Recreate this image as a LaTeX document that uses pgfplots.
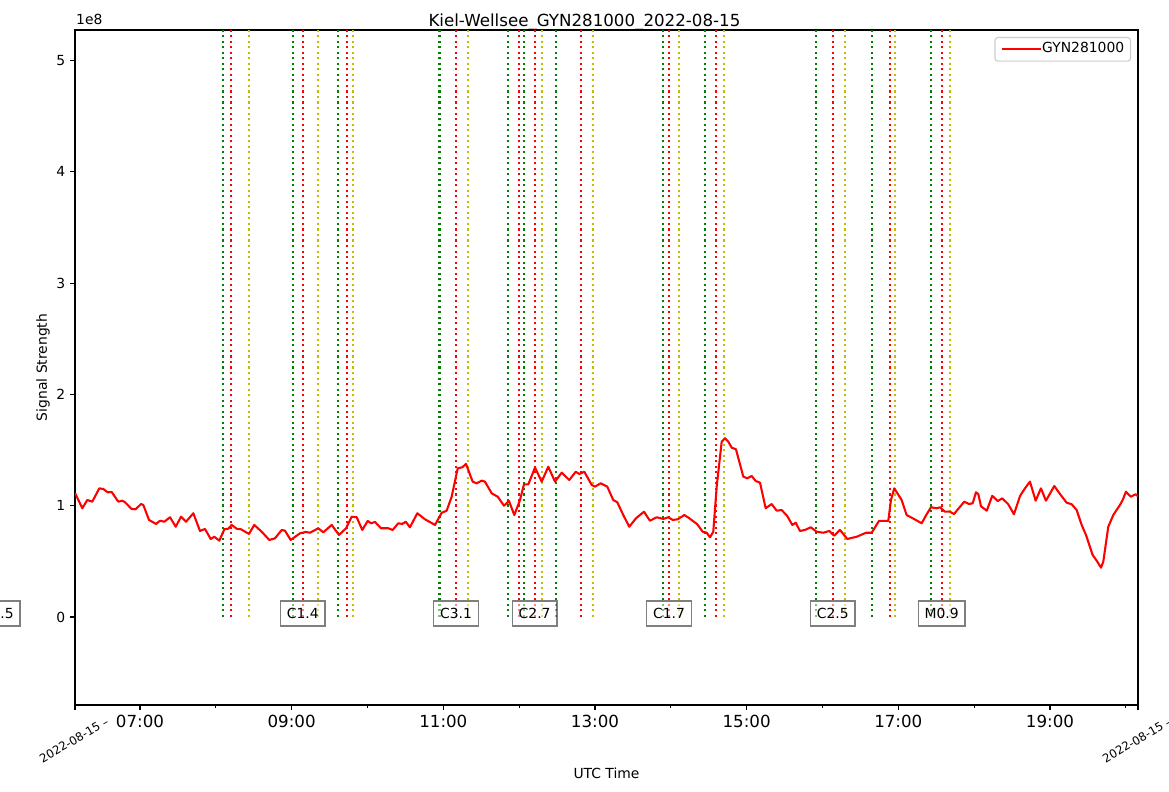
\documentclass[border=0pt]{standalone}
\usepackage{pgfplots}
\usepackage{pgfplotstable}
\pgfplotsset{compat=1.18}
\usepackage{fontspec}
\setmainfont{DejaVu Sans}
\definecolor{mplgreen}{rgb}{0,0.5,0}
\definecolor{mplyellow}{rgb}{0.75,0.75,0}
\definecolor{mplred}{rgb}{1,0,0}

\pgfplotstableread{
x y
6.1428 1.114
6.156 1.096
6.239 0.977
6.305 1.051
6.371 1.036
6.463 1.156
6.516 1.150
6.574 1.120
6.627 1.123
6.714 1.036
6.767 1.045
6.802 1.031
6.891 0.970
6.943 0.968
7.013 1.015
7.044 1.006
7.119 0.872
7.211 0.836
7.264 0.865
7.320 0.856
7.396 0.896
7.471 0.811
7.541 0.901
7.607 0.856
7.703 0.932
7.791 0.773
7.857 0.791
7.932 0.701
7.980 0.721
8.046 0.686
8.112 0.788
8.164 0.793
8.209 0.827
8.275 0.793
8.332 0.788
8.437 0.746
8.507 0.827
8.605 0.766
8.705 0.692
8.780 0.707
8.869 0.782
8.912 0.775
8.987 0.692
9.110 0.752
9.185 0.764
9.242 0.757
9.351 0.797
9.417 0.761
9.528 0.827
9.624 0.737
9.717 0.797
9.792 0.901
9.858 0.896
9.931 0.782
10.003 0.863
10.046 0.842
10.099 0.854
10.178 0.797
10.274 0.797
10.332 0.782
10.406 0.842
10.459 0.836
10.504 0.856
10.560 0.806
10.657 0.932
10.758 0.878
10.890 0.827
10.979 0.937
11.044 0.955
11.110 1.081
11.190 1.336
11.250 1.345
11.299 1.375
11.387 1.216
11.440 1.201
11.506 1.225
11.549 1.216
11.638 1.111
11.717 1.081
11.800 1.000
11.866 1.042
11.936 0.916
12.011 1.051
12.064 1.192
12.121 1.192
12.209 1.343
12.297 1.216
12.384 1.350
12.473 1.216
12.561 1.297
12.661 1.231
12.746 1.305
12.793 1.285
12.859 1.305
12.957 1.186
13.000 1.171
13.075 1.201
13.162 1.171
13.241 1.051
13.294 1.031
13.373 0.916
13.452 0.811
13.541 0.887
13.646 0.946
13.725 0.865
13.814 0.896
13.901 0.881
13.967 0.896
14.025 0.872
14.091 0.878
14.178 0.916
14.244 0.887
14.349 0.833
14.420 0.766
14.473 0.757
14.517 0.716
14.560 0.766
14.605 1.171
14.671 1.575
14.714 1.606
14.758 1.575
14.803 1.521
14.859 1.507
14.956 1.261
15.008 1.246
15.066 1.267
15.119 1.222
15.176 1.207
15.251 0.977
15.330 1.015
15.396 0.955
15.462 0.961
15.536 0.907
15.602 0.827
15.647 0.847
15.703 0.773
15.769 0.782
15.845 0.806
15.924 0.766
16.011 0.757
16.090 0.773
16.152 0.730
16.231 0.782
16.327 0.701
16.451 0.721
16.574 0.757
16.649 0.757
16.745 0.863
16.868 0.863
16.903 1.051
16.947 1.156
17.044 1.051
17.110 0.916
17.190 0.887
17.308 0.842
17.374 0.923
17.431 0.986
17.506 0.977
17.550 0.986
17.615 0.946
17.681 0.946
17.734 0.925
17.870 1.036
17.932 1.015
17.981 1.022
18.024 1.120
18.055 1.105
18.090 0.995
18.166 0.955
18.239 1.089
18.311 1.042
18.371 1.066
18.450 1.013
18.525 0.923
18.605 1.087
18.670 1.156
18.736 1.216
18.811 1.045
18.881 1.156
18.947 1.045
19.057 1.177
19.132 1.105
19.220 1.027
19.286 1.013
19.352 0.961
19.418 0.827
19.475 0.737
19.563 0.557
19.616 0.506
19.673 0.443
19.703 0.497
19.769 0.811
19.835 0.916
19.923 1.006
19.959 1.051
20.002 1.126
20.064 1.081
20.130 1.102
20.161 1.085
}\signal

\pgfplotsset{
  vg/.style={color=mplgreen, line width=1.5bp, dash pattern=on 1.5bp off 2.475bp, forget plot},
  vr/.style={color=mplred, line width=1.5bp, dash pattern=on 1.5bp off 2.475bp, forget plot},
  vy/.style={color=mplyellow, line width=1.5bp, dash pattern=on 1.5bp off 2.475bp, forget plot},
}
\tikzset{
  lbl/.style={draw=black, draw opacity=0.5, fill=white, fill opacity=0.5, text opacity=1,
    line width=1bp, font=\fontsize{10bp}{12bp}\selectfont, inner xsep=4.6bp, inner ysep=5.3bp,
    text height=7.3bp, text depth=0bp}
}

\begin{document}
\begin{tikzpicture}
\begin{axis}[
  scale only axis, width=765.36bp, height=486bp,
  xmin=6.1428, xmax=20.161, ymin=-0.7907, ymax=5.274,
  clip mode=individual,
  axis line style={line width=0.8bp},
  every tick/.style={black, line width=0.8bp},
  tick align=outside, tick pos=left,
  major tick length=3.5bp, minor tick length=2bp,
  xtick={7,9,11,13,15,17,19},
  xticklabels={07:00,09:00,11:00,13:00,15:00,17:00,19:00},
  minor xtick={8,10,12,14,16,18,20},
  extra x ticks={6.1428,20.161},
  extra x tick labels={},
  ytick={0,1,2,3,4,5},
  yticklabels={0,1,2,3,4,5},
  /pgf/number format/assume math mode=true,
  xticklabel style={font=\fontsize{12bp}{14bp}\selectfont},
  yticklabel style={font=\fontsize{10bp}{12bp}\selectfont},
  legend style={at={(rel axis cs:0.99341,0.98963)}, anchor=north east,
    draw=black!20, rounded corners=2bp, line width=0.8bp,
    font=\fontsize{10bp}{12bp}\selectfont, inner xsep=4.5bp, inner ysep=3.5bp,
    nodes={inner sep=0pt, text height=7.6bp, text depth=2.4bp}},
  legend image code/.code={\draw[#1] (0bp,0bp) -- (20bp,0bp); \path (0bp,0bp) -- (28bp,0bp);},
]
% start (green), peak (red), end (yellow) lines
\addplot[vg] coordinates {(8.0906,0) (8.0906,5.274)};
\addplot[vr] coordinates {(8.196,0) (8.196,5.274)};
\addplot[vy] coordinates {(8.437,0) (8.437,5.274)};
\addplot[vg] coordinates {(9.014,0) (9.014,5.274)};
\addplot[vr] coordinates {(9.146,0) (9.146,5.274)};
\addplot[vy] coordinates {(9.343,0) (9.343,5.274)};
\addplot[vg] coordinates {(9.607,0) (9.607,5.274)};
\addplot[vr] coordinates {(9.726,0) (9.726,5.274)};
\addplot[vy] coordinates {(9.805,0) (9.805,5.274)};
\addplot[vg] coordinates {(10.950,0) (10.950,5.274)};
\addplot[vr] coordinates {(11.167,0) (11.167,5.274)};
\addplot[vy] coordinates {(11.323,0) (11.323,5.274)};
\addplot[vg] coordinates {(11.850,0) (11.850,5.274)};
\addplot[vr] coordinates {(11.995,0) (11.995,5.274)};
\addplot[vg] coordinates {(12.061,0) (12.061,5.274)};
\addplot[vr] coordinates {(12.204,0) (12.204,5.274)};
\addplot[vy] coordinates {(12.304,0) (12.304,5.274)};
\addplot[vg] coordinates {(12.486,0) (12.486,5.274)};
\addplot[vr] coordinates {(12.813,0) (12.813,5.274)};
\addplot[vy] coordinates {(12.971,0) (12.971,5.274)};
\addplot[vg] coordinates {(13.894,0) (13.894,5.274)};
\addplot[vr] coordinates {(13.976,0) (13.976,5.274)};
\addplot[vy] coordinates {(14.108,0) (14.108,5.274)};
\addplot[vg] coordinates {(14.451,0) (14.451,5.274)};
\addplot[vr] coordinates {(14.596,0) (14.596,5.274)};
\addplot[vy] coordinates {(14.701,0) (14.701,5.274)};
\addplot[vg] coordinates {(15.911,0) (15.911,5.274)};
\addplot[vr] coordinates {(16.135,0) (16.135,5.274)};
\addplot[vy] coordinates {(16.293,0) (16.293,5.274)};
\addplot[vg] coordinates {(16.649,0) (16.649,5.274)};
\addplot[vr] coordinates {(16.887,0) (16.887,5.274)};
\addplot[vy] coordinates {(16.956,0) (16.956,5.274)};
\addplot[vg] coordinates {(17.427,0) (17.427,5.274)};
\addplot[vr] coordinates {(17.572,0) (17.572,5.274)};
\addplot[vy] coordinates {(17.682,0) (17.682,5.274)};

\addplot[color=mplred, line width=1.5bp, line join=round] table[x=x, y=y] {\signal};
\addlegendentry{GYN281000}

% flare class labels
\node[lbl, anchor=east] at (axis cs:5.427,0.031) {C1.5};
\node[lbl] at (axis cs:9.146,0.031) {C1.4};
\node[lbl] at (axis cs:11.167,0.031) {C3.1};
\node[lbl] at (axis cs:12.204,0.031) {C2.7};
\node[lbl] at (axis cs:13.976,0.031) {C1.7};
\node[lbl] at (axis cs:16.135,0.031) {C2.5};
\node[lbl] at (axis cs:17.572,0.031) {M0.9};

% texts around the axis
\node[font=\fontsize{12bp}{14bp}\selectfont, anchor=base] at ([xshift=366.8bp, yshift=2.2bp]rel axis cs:0,1) {Kiel-Wellsee\_GYN281000\_2022-08-15};
\node[font=\fontsize{10bp}{12bp}\selectfont, anchor=base west, inner sep=0pt] at ([xshift=0.7bp, yshift=3.6bp]rel axis cs:0,1) {1e8};
\node[font=\fontsize{10bp}{12bp}\selectfont, rotate=90] at ([xshift=-23bp]rel axis cs:0,0.5) {Signal Strength};
\node[font=\fontsize{10bp}{12bp}\selectfont] at ([yshift=-49bp]rel axis cs:0.5,0) {UTC Time};
\node[font=\fontsize{8.4bp}{10bp}\selectfont, rotate=30] at ([xshift=-0.7bp, yshift=-25.2bp]rel axis cs:0,0) {2022-08-15 --};
\node[font=\fontsize{8.4bp}{10bp}\selectfont, rotate=30] at ([xshift=-0.7bp, yshift=-25.2bp]rel axis cs:1,0) {2022-08-15 --};

\coordinate (BL) at (rel axis cs:0,0);
\coordinate (TR) at (rel axis cs:1,1);
\end{axis}
\pgfresetboundingbox
\path ([shift={(-54bp,-62.64bp)}]BL) rectangle ([shift={(22.32bp,21.6bp)}]TR);
\end{tikzpicture}
\end{document}
